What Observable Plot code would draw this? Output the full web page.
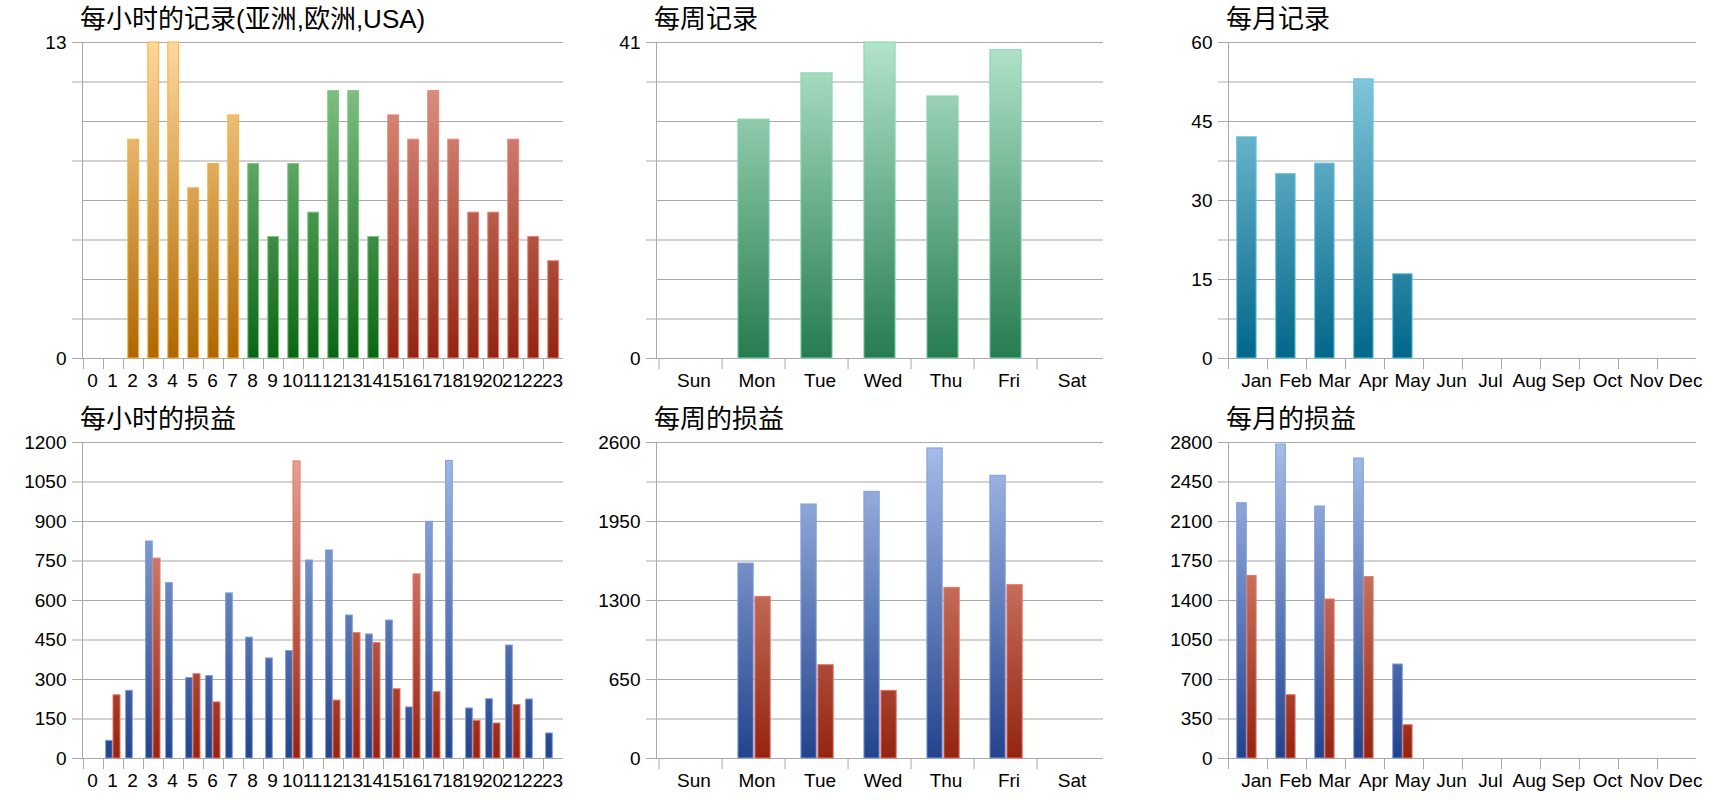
<!DOCTYPE html>
<html>
<head>
<meta charset="utf-8">
<script src="https://cdn.jsdelivr.net/npm/d3@7"></script>
<script src="https://cdn.jsdelivr.net/npm/@observablehq/plot@0.6"></script>
<style>
  body { margin: 0; background: #fff; }
  #root { position: relative; width: 1720px; height: 800px; overflow: hidden; }
  .panel { position: absolute; }
  .panel svg { position: absolute; top: 30px; left: 0; }
  .title { position: absolute; top: 4px; line-height: 30px; font-size: 26px; color: #000; white-space: nowrap;
           font-family: "Liberation Sans", "Noto Sans CJK SC", sans-serif; }
</style>
</head>
<body>
<div id="root"></div>
<script>
// ---------- data ----------
const hours = ["0","1","2","3","4","5","6","7","8","9","10","11","12","13","14","15","16","17","18","19","20","21","22","23"];
const hourRegion = ["亚洲","亚洲","亚洲","亚洲","亚洲","亚洲","亚洲","亚洲","欧洲","欧洲","欧洲","欧洲","欧洲","欧洲","欧洲","USA","USA","USA","USA","USA","USA","USA","USA","USA"];
const hourlyRecords = [0,0,9,13,13,7,8,10,8,5,8,6,11,11,5,10,9,11,9,6,6,9,5,4];
const hourlyProfit = [0,67,257,824,666,306,313,627,459,380,408,752,790,543,471,524,194,899,1130,190,225,429,224,95];
const hourlyLoss   = [0,240,0,759,0,320,213,0,0,0,1128,0,220,476,438,263,699,252,0,143,133,203,0,0];

const weekdays = ["Sun","Mon","Tue","Wed","Thu","Fri","Sat"];
const weeklyRecords = [0,31,37,41,34,40,0];
const weeklyProfit = [0,1604,2090,2194,2551,2326,0];
const weeklyLoss   = [0,1330,768,557,1404,1426,0];

const months = ["Jan","Feb","Mar","Apr","May","Jun","Jul","Aug","Sep","Oct","Nov","Dec"];
const monthlyRecords = [42,35,37,53,16,0,0,0,0,0,0,0];
const monthlyProfit = [2262,2782,2233,2658,833,0,0,0,0,0,0,0];
const monthlyLoss   = [1618,561,1409,1607,295,0,0,0,0,0,0,0];

// y-axis tick labels and grid positions
const hrRecLabels = [0,13];
const hrRecGrid = [0,1.625,3.25,4.875,6.5,8.125,9.75,11.375,13];
const hrPnlLabels = [0,150,300,450,600,750,900,1050,1200];
const wkRecLabels = [0,41];
const wkRecGrid = [0,5.125,10.25,15.375,20.5,25.625,30.75,35.875,41];
const wkPnlLabels = [0,650,1300,1950,2600];
const wkPnlGrid = [0,325,650,975,1300,1625,1950,2275,2600];
const moRecLabels = [0,15,30,45,60];
const moRecGrid = [0,7.5,15,22.5,30,37.5,45,52.5,60];
const moPnlLabels = [0,350,700,1050,1400,1750,2100,2450,2800];

const titles = ["每小时的记录(亚洲,欧洲,USA)","每周记录","每月记录","每小时的损益","每周的损益","每月的损益"];

// ---------- styles ----------
const gradients = {
  orange: ["#FFD89C", "#AE6700"],
  green:  ["#92CE96", "#0A6614"],
  red:    ["#E8A094", "#932410"],
  blue:   ["#A8BEEA", "#22438D"],
  loss:   ["#ECA898", "#932410"],
  mint:   ["#B2E4CA", "#267C50"],
  teal:   ["#92D2E4", "#02678A"]
};
const strokes = {orange:"#FFAE3A", green:"#7CC87E", red:"#E48272", blue:"#7E9DE2", loss:"#E87462", mint:"#86D8AC", teal:"#62C2E2"};

const FONT = "Liberation Sans, Noto Sans CJK SC, sans-serif";
const root = document.getElementById("root");
let gid = 0;

function chart({left, top, width, marginLeft, marginRight, title, cats, yMax, yLabels, yGrid, series, labelDx}) {
  const H = 370, MT = 12, MB = 42;
  const step = (width - marginLeft - marginRight) / cats.length;
  const prefix = "g" + (gid++) + "-";
  const usedGrads = [...new Set(series.map(s => s.grad))];
  const defsMark = (index, scales) => {
    const ns = "http://www.w3.org/2000/svg";
    const defs = document.createElementNS(ns, "defs");
    const yTop = scales.y(yMax), yBot = scales.y(0);
    for (const g of usedGrads) {
      const lg = document.createElementNS(ns, "linearGradient");
      lg.setAttribute("id", prefix + g);
      lg.setAttribute("gradientUnits", "userSpaceOnUse");
      lg.setAttribute("x1", 0); lg.setAttribute("x2", 0);
      lg.setAttribute("y1", yTop); lg.setAttribute("y2", yBot);
      gradients[g].forEach((c, k) => {
        const st = document.createElementNS(ns, "stop");
        st.setAttribute("offset", k === 0 ? "0" : "1");
        st.setAttribute("stop-color", c);
        lg.appendChild(st);
      });
      defs.appendChild(lg);
    }
    return defs;
  };
  const barMarks = series.map(s => {
    const rows = cats.map((c, i) => ({cat: c, v: s.values[i], region: s.regions ? s.regions[i] : null}));
    return Plot.barY(rows, {
      filter: d => d.v > 0 && (!s.region || d.region === s.region),
      x: "cat", y: "v",
      fill: `url(#${prefix}${s.grad})`,
      stroke: strokes[s.grad], strokeWidth: 1,
      insetLeft: s.insetLeft, insetRight: s.insetRight
    });
  });
  const majorGrid = yGrid.filter((_, i) => i % 2 === 0);
  const minorGrid = yGrid.filter((_, i) => i % 2 === 1);
  const svg = Plot.plot({
    width, height: H, marginTop: MT, marginBottom: MB, marginLeft, marginRight,
    style: {fontFamily: FONT, fontSize: "19px", color: "#000", background: "transparent", overflow: "visible"},
    x: {type: "band", domain: cats, padding: 0},
    y: {domain: [0, yMax]},
    marks: [
      defsMark,
      Plot.gridY(minorGrid, {stroke: "#d2d2d2", strokeOpacity: 1, strokeWidth: 1.8}),
      Plot.gridY(majorGrid, {stroke: "#a9a9a9", strokeOpacity: 1, strokeWidth: 1}),
      Plot.axisY(yLabels, {tickSize: 10, tickPadding: 6, stroke: "#a8a8a8", fontSize: 19, tickFormat: d => String(d), label: null}),
      Plot.axisY(minorGrid, {tickSize: 10, tickFormat: () => "", stroke: "#d2d2d2", strokeWidth: 1.8, label: null}),
      Plot.frame({anchor: "left", stroke: "#a8a8a8"}),
      Plot.axisX({tickSize: 11, tickFormat: () => "", dx: -step / 2, stroke: "#a8a8a8", label: null}),
      Plot.axisX({tickSize: 0, tickPadding: 15, fontSize: 19, dx: labelDx, label: null}),
      ...barMarks
    ]
  });
  const panel = document.createElement("div");
  panel.className = "panel";
  panel.style.left = left + "px";
  panel.style.top = top + "px";
  panel.style.width = width + "px";
  panel.style.height = "400px";
  const t = document.createElement("div");
  t.className = "title";
  t.style.left = (marginLeft - 2) + "px";
  t.textContent = title;
  panel.appendChild(t);
  panel.appendChild(svg);
  root.appendChild(panel);
}

// hourly records
chart({left: 0, top: 0, width: 580, marginLeft: 82, marginRight: 17, title: titles[0], cats: hours,
  yMax: 13, yLabels: hrRecLabels, yGrid: hrRecGrid, labelDx: -1,
  series: [
    {values: hourlyRecords, regions: hourRegion, region: "亚洲", grad: "orange", insetLeft: 4.8, insetRight: 4.4},
    {values: hourlyRecords, regions: hourRegion, region: "欧洲", grad: "green", insetLeft: 4.8, insetRight: 4.4},
    {values: hourlyRecords, regions: hourRegion, region: "USA", grad: "red", insetLeft: 4.8, insetRight: 4.4}
  ]});
// weekly records
chart({left: 580, top: 0, width: 540, marginLeft: 76, marginRight: 17, title: titles[1], cats: weekdays,
  yMax: 41, yLabels: wkRecLabels, yGrid: wkRecGrid, labelDx: 3,
  series: [{values: weeklyRecords, grad: "mint", insetLeft: 15.9, insetRight: 15.9}]});
// monthly records
chart({left: 1140, top: 0, width: 580, marginLeft: 88, marginRight: 24, title: titles[2], cats: months,
  yMax: 60, yLabels: moRecLabels, yGrid: moRecGrid, labelDx: 8.5,
  series: [{values: monthlyRecords, grad: "teal", insetLeft: 8.7, insetRight: 10.9}]});
// hourly P&L
chart({left: 0, top: 400, width: 580, marginLeft: 82, marginRight: 17, title: titles[3], cats: hours,
  yMax: 1200, yLabels: hrPnlLabels, yGrid: hrPnlLabels, labelDx: -1,
  series: [
    {values: hourlyProfit, grad: "blue", insetLeft: 2.6, insetRight: 10.7},
    {values: hourlyLoss, grad: "loss", insetLeft: 10, insetRight: 3}
  ]});
// weekly P&L
chart({left: 580, top: 400, width: 540, marginLeft: 76, marginRight: 17, title: titles[4], cats: weekdays,
  yMax: 2600, yLabels: wkPnlLabels, yGrid: wkPnlGrid, labelDx: 3,
  series: [
    {values: weeklyProfit, grad: "blue", insetLeft: 15.9, insetRight: 31.8},
    {values: weeklyLoss, grad: "loss", insetLeft: 32.9, insetRight: 14.8}
  ]});
// monthly P&L
chart({left: 1140, top: 400, width: 580, marginLeft: 88, marginRight: 24, title: titles[5], cats: months,
  yMax: 2800, yLabels: moPnlLabels, yGrid: moPnlLabels, labelDx: 8.5,
  series: [
    {values: monthlyProfit, grad: "blue", insetLeft: 8.7, insetRight: 20.7},
    {values: monthlyLoss, grad: "loss", insetLeft: 18.9, insetRight: 10.9}
  ]});
</script>
</body>
</html>
